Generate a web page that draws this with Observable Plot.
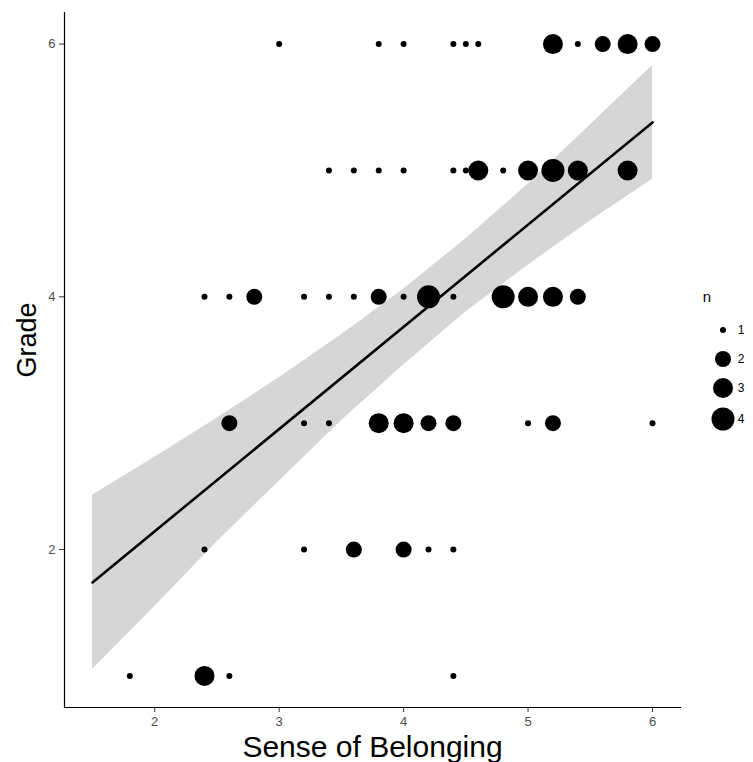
<!DOCTYPE html>
<html><head><meta charset="utf-8">
<script src="https://cdn.jsdelivr.net/npm/d3@7"></script>
<script src="https://cdn.jsdelivr.net/npm/@observablehq/plot@0.6"></script>
<style>
body{margin:0;background:#fff;}
#wrap{width:753px;height:762px;}
</style>
</head><body><div id="wrap"></div>
<script>
// Sense of Belonging (x), Grade (y), count n at that position
const belonging = [
  3.0, 3.8, 4.0, 4.4, 4.5, 4.6, 5.2, 5.4, 5.6, 5.8, 6.0,
  3.4, 3.6, 3.8, 4.0, 4.4, 4.5, 4.6, 4.8, 5.0, 5.2, 5.4, 5.8,
  2.4, 2.6, 2.8, 3.2, 3.4, 3.6, 3.8, 4.0, 4.2, 4.4, 4.8, 5.0, 5.2, 5.4,
  2.6, 3.2, 3.4, 3.8, 4.0, 4.2, 4.4, 5.0, 5.2, 6.0,
  2.4, 3.2, 3.6, 4.0, 4.2, 4.4,
  1.8, 2.4, 2.6, 4.4
];
const grade = [
  6, 6, 6, 6, 6, 6, 6, 6, 6, 6, 6,
  5, 5, 5, 5, 5, 5, 5, 5, 5, 5, 5, 5,
  4, 4, 4, 4, 4, 4, 4, 4, 4, 4, 4, 4, 4, 4,
  3, 3, 3, 3, 3, 3, 3, 3, 3, 3,
  2, 2, 2, 2, 2, 2,
  1, 1, 1, 1
];
const count = [
  1, 1, 1, 1, 1, 1, 3, 1, 2, 3, 2,
  1, 1, 1, 1, 1, 1, 3, 1, 3, 4, 3, 3,
  1, 1, 2, 1, 1, 1, 2, 1, 4, 1, 4, 3, 3, 2,
  2, 1, 1, 3, 3, 2, 2, 1, 2, 1,
  1, 1, 2, 2, 1, 1,
  1, 3, 1, 1
];
// linear fit and its confidence band
const fitX = [1.5, 6.0];
const fitY = [1.74, 5.38];
const bandX    = [1.5, 2.0, 2.5, 3.0, 3.5, 4.0, 4.5, 5.0, 5.5, 6.0];
const bandLow  = [1.05, 1.55, 2.06, 2.54, 3.02, 3.46, 3.88, 4.25, 4.60, 4.93];
const bandHigh = [2.43, 2.73, 3.04, 3.36, 3.70, 4.06, 4.46, 4.89, 5.36, 5.83];
const xTicks = [2, 3, 4, 5, 6];
const yTicks = [2, 4, 6];
const legendN = [1, 2, 3, 4];

const points = belonging.map((x, i) => ({x, y: grade[i], n: count[i]}));
const band = bandX.map((x, i) => ({x, lo: bandLow[i], hi: bandHigh[i]}));
const fit = fitX.map((x, i) => ({x, y: fitY[i]}));

const font = "'Liberation Sans', Arial, Helvetica, sans-serif";

const plot = Plot.plot({
  width: 753,
  height: 762,
  marginLeft: 64,
  marginRight: 73,
  marginTop: 12,
  marginBottom: 55,
  style: {fontFamily: font, background: "#fff", overflow: "visible"},
  x: {domain: [1.275, 6.225]},
  y: {domain: [0.75, 6.25]},
  r: {type: "linear", domain: [1, 2, 3, 4], range: [3, 8, 10, 11.5]},
  marks: [
    Plot.areaY(band, {x: "x", y1: "lo", y2: "hi", fill: "#d6d6d6"}),
    Plot.dot(points, {x: "x", y: "y", r: "n", fill: "black", stroke: "none"}),
    Plot.line(fit, {x: "x", y: "y", stroke: "black", strokeWidth: 2.6}),
    Plot.frame({anchor: "left", stroke: "black", strokeWidth: 1.2}),
    Plot.frame({anchor: "bottom", stroke: "black", strokeWidth: 1.2}),
    Plot.axisX({ticks: xTicks, tickFormat: d => String(d), tickSize: 5, tickPadding: 4, fontSize: 13, stroke: "#333", fill: "#4d4d4d", label: null}),
    Plot.axisY({ticks: yTicks, tickFormat: d => String(d), tickSize: 5, tickPadding: 4, fontSize: 13, stroke: "#333", fill: "#4d4d4d", label: null}),
    Plot.text(["Sense of Belonging"], {frameAnchor: "bottom", dy: 40, fontSize: 30, lineAnchor: "middle", textAnchor: "middle", fill: "black"}),
    Plot.text(["Grade"], {frameAnchor: "left", dx: -37, dy: -20, rotate: -90, fontSize: 27, lineAnchor: "middle", textAnchor: "middle", fill: "black"})
  ]
});

// size legend, radii from the plot's own r scale
const rScale = plot.scale("r");
const svg = d3.select(plot);
const lg = svg.append("g").attr("font-family", font);
lg.append("text").attr("x", 707).attr("y", 302).attr("font-size", 15).attr("fill", "black").text("n");
const legendY = [330, 359, 388, 419];
legendN.forEach((n, i) => {
  lg.append("circle").attr("cx", 723).attr("cy", legendY[i]).attr("r", rScale.apply(n)).attr("fill", "black");
  lg.append("text").attr("x", 741).attr("y", legendY[i]).attr("dy", "0.35em").attr("font-size", 12).attr("fill", "black").text(n);
});

document.getElementById("wrap").appendChild(plot);
</script>
</body></html>
